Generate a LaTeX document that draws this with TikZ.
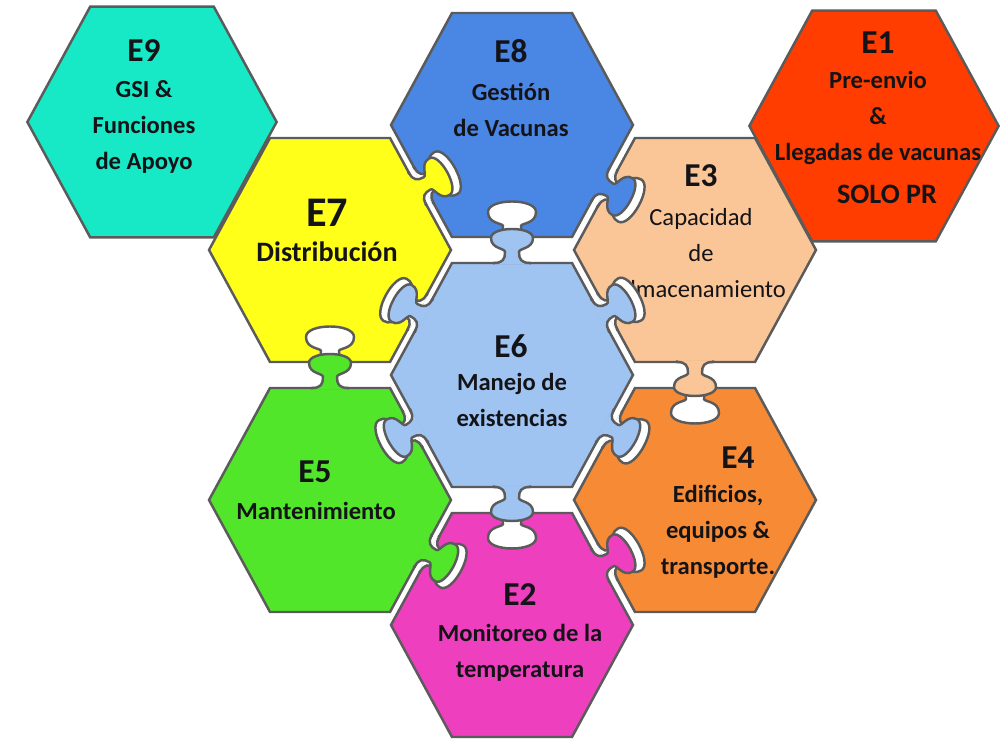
\documentclass[tikz,border=0pt]{standalone}
\usepackage{fontspec}
\setmainfont{Carlito}

\definecolor{bordegris}{HTML}{5B5B5B}
\definecolor{tinta}{HTML}{141418}
\definecolor{turquesaE}{HTML}{17E8C5}
\definecolor{azulE}{HTML}{4A86E4}
\definecolor{rojoE}{HTML}{FF3D00}
\definecolor{amarilloE}{HTML}{FFFF1A}
\definecolor{melocotonE}{HTML}{FAC597}
\definecolor{celesteE}{HTML}{A0C4F2}
\definecolor{verdeE}{HTML}{52E62A}
\definecolor{naranjaE}{HTML}{F78A35}
\definecolor{rosaE}{HTML}{EE3FBE}

\tikzset{
  pieza/.style={draw=bordegris, line width=1.4pt},
  etiqueta/.style={font=\fontsize{19}{22}\selectfont\bfseries, text=tinta},
  cuerpo/.style={font=\fontsize{14}{20.4}\selectfont\bfseries, align=center, text=tinta},
}

% hexagono: [escala], centro, color
\newcommand{\hexagono}[3][1]{%
  \filldraw[pieza, fill=#3, shift={#2}, scale=#1] (121,0) -- (60,112) -- (-60,112) -- (-121,0) -- (-60,-112) -- (60,-112) -- cycle;}

% pestana: centro de la pieza, angulo del lado, desplazamiento, distancia al lado, hueco, color
\newcommand{\pestana}[6]{%
  \begin{scope}[shift={#1}, rotate=#2-90, shift={(#3,#4)}]
    \path[pieza, fill=white, shift={(0,#5)}] (-20,-1.5) -- (-20,0) .. controls (-11,0) and (-9,4) .. (-9,11) .. controls (-9,14) and (-24,13) .. (-24,25) .. controls (-24,39) and (24,39) .. (24,25) .. controls (24,13) and (9,14) .. (9,11) .. controls (9,4) and (11,0) .. (20,0) -- (20,-1.5);
    \path[pieza, fill=#6] (-18,-1.5) -- (-18,0) .. controls (-9,0) and (-7,4) .. (-7,11) .. controls (-7,15) and (-21,14) .. (-21,25) .. controls (-21,37) and (21,37) .. (21,25) .. controls (21,14) and (7,15) .. (7,11) .. controls (7,4) and (9,0) .. (18,0) -- (18,-1.5);
  \end{scope}}

\begin{document}
\begin{tikzpicture}[x=0.02cm, y=0.02cm]
    \useasboundingbox (0,0) rectangle (1005,740);

    % piezas
    \hexagono[1.03]{(152,618)}{turquesaE}
    \hexagono{(512,615)}{azulE}
    \hexagono[1.03]{(874,614)}{rojoE}
    \hexagono{(330,490)}{amarilloE}
    \hexagono{(695,490)}{melocotonE}
    \hexagono{(512,365)}{celesteE}
    \hexagono{(330,240)}{verdeE}
    \hexagono{(695,240)}{naranjaE}
    \hexagono{(512,115)}{rosaE}

    % textos
    \node[etiqueta] (e9lab) at (144,689) {E9};
    \node[cuerpo] (e9txt) at (144,613) {GSI \&\\Funciones\\de Apoyo};
    \node[etiqueta] (e8lab) at (511,689) {E8};
    \node[cuerpo] (e8txt) at (511,630) {Gestión\\de Vacunas};
    \node[etiqueta] (e1lab) at (878,697) {E1};
    \node[cuerpo] (e1txt) at (878,622) {Pre-envio\\\&\\Llegadas de vacunas};
    \node[cuerpo, font=\fontsize{16}{19}\selectfont\bfseries] (e1solo) at (887,546) {SOLO PR};
    \node[etiqueta, font=\fontsize{24}{28}\selectfont\bfseries] (e7lab) at (327,527) {E7};
    \node[cuerpo, font=\fontsize{16}{19}\selectfont\bfseries] (e7txt) at (327,488) {Distribución};
    \node[etiqueta] (e3lab) at (701,564) {E3};
    \node[cuerpo, font=\fontsize{14}{20.4}\selectfont] (e3txt) at (701,487) {Capacidad\\de\\Almacenamiento};
    \node[etiqueta] (e6lab) at (511,394) {E6};
    \node[cuerpo] (e6txt) at (512,340) {Manejo de\\existencias};
    \node[etiqueta] (e5lab) at (315,268) {E5};
    \node[cuerpo] (e5txt) at (316,229) {Mantenimiento};
    \node[etiqueta] (e4lab) at (738,282) {E4};
    \node[cuerpo] (e4txt) at (718,208) {Edificios,\\equipos \&\\transporte.};
    \node[etiqueta] (e2lab) at (520,145) {E2};
    \node[cuerpo] (e2txt) at (520,87) {Monitoreo de la\\temperatura};

    % pestanas del rompecabezas
    \pestana{(330,240)}{90}{0}{112}{26}{verdeE}
    \pestana{(512,365)}{90}{0}{112}{26}{celesteE}
    \pestana{(330,490)}{28.6}{-12}{106.2}{7.3}{amarilloE}
    \pestana{(512,365)}{151.4}{10}{106.2}{7.3}{celesteE}
    \pestana{(512,615)}{-28.6}{10}{106.2}{8.2}{azulE}
    \pestana{(512,365)}{28.6}{-10}{106.2}{8.2}{celesteE}
    \pestana{(695,490)}{-90}{0}{112}{26}{melocotonE}
    \pestana{(512,365)}{-28.6}{0}{106.2}{8.2}{celesteE}
    \pestana{(512,365)}{-90}{0}{112}{26}{celesteE}
    \pestana{(512,115)}{28.6}{-10}{106.2}{8.2}{rosaE}
    \pestana{(512,365)}{208.6}{0}{106.2}{7.3}{celesteE}
    \pestana{(330,240)}{-28.6}{0}{106.2}{7.3}{verdeE}
\end{tikzpicture}
\end{document}
